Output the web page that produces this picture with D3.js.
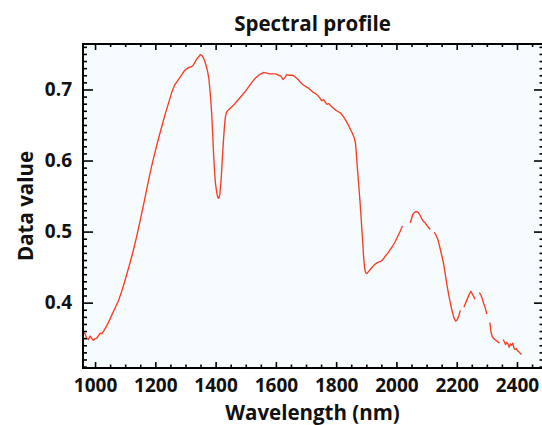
<!DOCTYPE html>
<html>
<head>
<meta charset="utf-8">
<script src="https://cdn.jsdelivr.net/npm/d3@7"></script>
<style>
  html, body { margin: 0; padding: 0; background: #ffffff; }
  svg { display: block; }
  text { font-family: "Open Sans", "DejaVu Sans", sans-serif; font-weight: 700; fill: #111; }
</style>
</head>
<body>
<script>
// ---- Data; null = gap in the spectrum ----
const wavelengths = [
  960, 967, 972, 978, 983, 988, 994, 1000, 1006, 1012, 1017, 1022, 1030, 1042, 1054, 1066, 1078, 1090,
  1102, 1114, 1126, 1138, 1150, 1162, 1174, 1186, 1198, 1210, 1222, 1234, 1246, 1256, 1264, 1272,
  1280, 1288, 1296, 1304, 1312, 1320, 1326, 1332, 1338, 1344, 1349, 1354, 1359, 1364, 1369, 1374,
  1378, 1381, 1384, 1387, 1390, 1393, 1396, 1399, 1402, 1405, 1408, 1411, 1414, 1417, 1420, 1423,
  1426, 1429, 1432, 1436, 1442, 1450, 1460, 1470, 1480, 1490, 1500, 1510, 1520, 1530, 1540, 1550,
  1560, 1570, 1580, 1590, 1600, 1608, 1616, 1624, 1630, 1636, 1644, 1652, 1660, 1668, 1676, 1684,
  1692, 1700, 1708, 1716, 1724, 1732, 1740, 1746, 1752, 1758, 1764, 1770, 1776, 1782, 1790, 1798,
  1806, 1814, 1822, 1830, 1838, 1846, 1854, 1860, 1864, 1867, 1870, 1873, 1876, 1879, 1882, 1885,
  1888, 1891, 1894, 1898, 1902, 1908, 1916, 1924, 1932, 1940, 1948, 1956, 1964, 1972, 1980, 1988,
  1996, 2004, 2012, 2020, 2030, 2046, 2050, 2054, 2060, 2066, 2072, 2078, 2084, 2090, 2096, 2102,
  2108, 2112, 2120, 2126, 2132, 2138, 2144, 2150, 2156, 2162, 2168, 2174, 2180, 2186, 2192, 2197,
  2202, 2207, 2212, 2218, 2224, 2230, 2236, 2242, 2247, 2252, 2257, 2261, 2268, 2275, 2280, 2285,
  2290, 2295, 2300, 2305, 2310, 2314, 2318, 2324, 2330, 2336, 2342, 2348, 2354, 2358, 2362, 2366,
  2370, 2374, 2378, 2382, 2386, 2390, 2394, 2398, 2402, 2406, 2410, 2415
];
const dataValues = [
  0.358, 0.356, 0.350, 0.348, 0.353, 0.350, 0.347, 0.349, 0.350, 0.354, 0.357, 0.356, 0.361, 0.370, 0.381, 0.392, 0.403, 0.418,
  0.435, 0.453, 0.472, 0.493, 0.516, 0.540, 0.565, 0.589, 0.610, 0.630, 0.649, 0.667, 0.684, 0.698, 0.706, 0.711,
  0.716, 0.721, 0.726, 0.729, 0.731, 0.732, 0.734, 0.739, 0.743, 0.746, 0.749, 0.748, 0.745, 0.740, 0.733, 0.724,
  0.714, 0.700, 0.685, 0.666, 0.640, 0.612, 0.588, 0.570, 0.560, 0.552, 0.547, 0.547, 0.552, 0.566, 0.585, 0.608,
  0.628, 0.646, 0.660, 0.668, 0.671, 0.674, 0.678, 0.683, 0.688, 0.693, 0.698, 0.704, 0.710, 0.715, 0.719, 0.722,
  0.724, 0.723, 0.722, 0.722, 0.722, 0.720, 0.719, 0.714, 0.717, 0.721, 0.720, 0.720, 0.719, 0.716, 0.713, 0.709,
  0.706, 0.704, 0.702, 0.699, 0.696, 0.694, 0.691, 0.688, 0.684, 0.686, 0.682, 0.679, 0.680, 0.677, 0.674, 0.671,
  0.669, 0.667, 0.663, 0.658, 0.652, 0.645, 0.638, 0.632, 0.625, 0.610, 0.592, 0.575, 0.560, 0.543, 0.525, 0.505,
  0.486, 0.465, 0.450, 0.442, 0.441, 0.444, 0.448, 0.452, 0.455, 0.457, 0.458, 0.461, 0.466, 0.470, 0.475, 0.480,
  0.486, 0.493, 0.500, 0.508, null, 0.512, 0.518, 0.524, 0.527, 0.528, 0.527, 0.523, 0.518, 0.514, 0.512, 0.508,
  0.505, 0.503, null, 0.499, 0.494, 0.488, 0.478, 0.467, 0.456, 0.440, 0.424, 0.410, 0.397, 0.386, 0.377, 0.374,
  0.376, 0.382, 0.389, null, 0.394, 0.400, 0.406, 0.412, 0.416, 0.412, 0.408, 0.405, null, 0.414, 0.411, 0.405,
  0.398, 0.392, 0.384, null, 0.372, 0.358, 0.352, 0.349, 0.347, 0.345, 0.343, null, 0.348, 0.345, 0.341, 0.344,
  0.342, 0.337, 0.342, 0.340, 0.343, 0.336, 0.334, 0.335, 0.332, 0.331, 0.329, 0.327
];
const xTickValues = [1000, 1200, 1400, 1600, 1800, 2000, 2200, 2400];
const yTickValues = [0.4, 0.5, 0.6, 0.7];
const chartTitle = "Spectral profile";
const xTitle = "Wavelength (nm)";
const yTitle = "Data value";

// ---- Layout ----
const W = 542, H = 425;
const plot = { left: 83, right: 542, top: 44, bottom: 368 };

const svg = d3.select("body").append("svg").attr("width", W).attr("height", H);
svg.append("rect").attr("width", W).attr("height", H).attr("fill", "#ffffff");

const x = d3.scaleLinear().domain([960, 2483]).range([plot.left, plot.right]);
const y = d3.scaleLinear().domain([0.308, 0.764]).range([plot.bottom, plot.top]);

svg.append("rect")
  .attr("x", plot.left).attr("y", plot.top)
  .attr("width", plot.right - plot.left).attr("height", plot.bottom - plot.top)
  .attr("fill", "#f6fbfd");

// clip
svg.append("clipPath").attr("id", "clip").append("rect")
  .attr("x", plot.left).attr("y", plot.top)
  .attr("width", plot.right - plot.left).attr("height", plot.bottom - plot.top);

const pts = wavelengths.map((w, i) => ({ w, v: dataValues[i] }));
const line = d3.line()
  .defined(d => d.v !== null)
  .x(d => x(d.w)).y(d => y(d.v));

svg.append("path")
  .datum(pts)
  .attr("clip-path", "url(#clip)")
  .attr("fill", "none")
  .attr("stroke", "#fb3b22")
  .attr("stroke-width", 1.35)
  .attr("stroke-linejoin", "round")
  .attr("d", line);

// minor tick values
const xMinor = d3.range(1050, 2480, 50).filter(v => v % 200 !== 0);
const yMinor = d3.range(31, 77).map(v => v / 100).filter(v => Math.round(v * 100) % 10 !== 0);

function styleAxis(g) {
  g.select(".domain").remove();
  g.selectAll(".tick line").attr("stroke", "#000").attr("stroke-width", 1.6);
}

// bottom axis
svg.append("g").attr("transform", `translate(0,${plot.bottom})`)
  .call(d3.axisBottom(x).tickValues(xMinor).tickSize(-3.5).tickFormat(""))
  .call(styleAxis);
const gx = svg.append("g").attr("transform", `translate(0,${plot.bottom})`)
  .call(d3.axisBottom(x).tickValues(xTickValues).tickSize(-6).tickPadding(11).tickFormat(d3.format("d")))
  .call(styleAxis);
gx.selectAll("text").attr("font-size", 19).attr("font-family", "'Open Sans', sans-serif").attr("font-weight", 700).attr("fill", "#111");

// top axis
svg.append("g").attr("transform", `translate(0,${plot.top})`)
  .call(d3.axisTop(x).tickValues(xMinor).tickSize(-3).tickFormat(""))
  .call(styleAxis);
svg.append("g").attr("transform", `translate(0,${plot.top})`)
  .call(d3.axisTop(x).tickValues(xTickValues).tickSize(-6).tickFormat(""))
  .call(styleAxis);

// left axis
svg.append("g").attr("transform", `translate(${plot.left},0)`)
  .call(d3.axisLeft(y).tickValues(yMinor).tickSize(-4).tickFormat(""))
  .call(styleAxis);
const gy = svg.append("g").attr("transform", `translate(${plot.left},0)`)
  .call(d3.axisLeft(y).tickValues(yTickValues).tickSize(-10).tickPadding(11).tickFormat(d3.format(".1f")))
  .call(styleAxis);
gy.selectAll("text").attr("font-size", 19).attr("font-family", "'Open Sans', sans-serif").attr("font-weight", 700).attr("fill", "#111");

// right axis (its frame line sits just outside the picture)
svg.append("g").attr("transform", `translate(${plot.right},0)`)
  .call(d3.axisRight(y).tickValues(yMinor).tickSize(-2.5).tickFormat(""))
  .call(styleAxis);
svg.append("g").attr("transform", `translate(${plot.right},0)`)
  .call(d3.axisRight(y).tickValues(yTickValues).tickSize(-8).tickFormat(""))
  .call(styleAxis);

// frame lines
const frame = svg.append("g").attr("stroke", "#000").attr("stroke-width", 2).attr("fill", "none");
frame.append("line").attr("x1", plot.left).attr("x2", plot.left).attr("y1", plot.top - 1).attr("y2", plot.bottom + 1);
frame.append("line").attr("x1", plot.left - 1).attr("x2", plot.right).attr("y1", plot.bottom).attr("y2", plot.bottom);
frame.append("line").attr("x1", plot.left - 1).attr("x2", plot.right).attr("y1", plot.top).attr("y2", plot.top);
frame.append("line").attr("x1", plot.right + 1.5).attr("x2", plot.right + 1.5).attr("y1", plot.top).attr("y2", plot.bottom);

// titles
svg.append("text")
  .attr("x", (plot.left + plot.right) / 2).attr("y", 31)
  .attr("text-anchor", "middle").attr("font-size", 20.5)
  .text(chartTitle);

svg.append("text")
  .attr("x", (plot.left + plot.right) / 2).attr("y", 420)
  .attr("text-anchor", "middle").attr("font-size", 20.5)
  .text(xTitle);

svg.append("text")
  .attr("transform", `translate(33,${(plot.top + plot.bottom) / 2}) rotate(-90)`)
  .attr("text-anchor", "middle").attr("font-size", 20.5)
  .text(yTitle);
</script>
</body>
</html>
